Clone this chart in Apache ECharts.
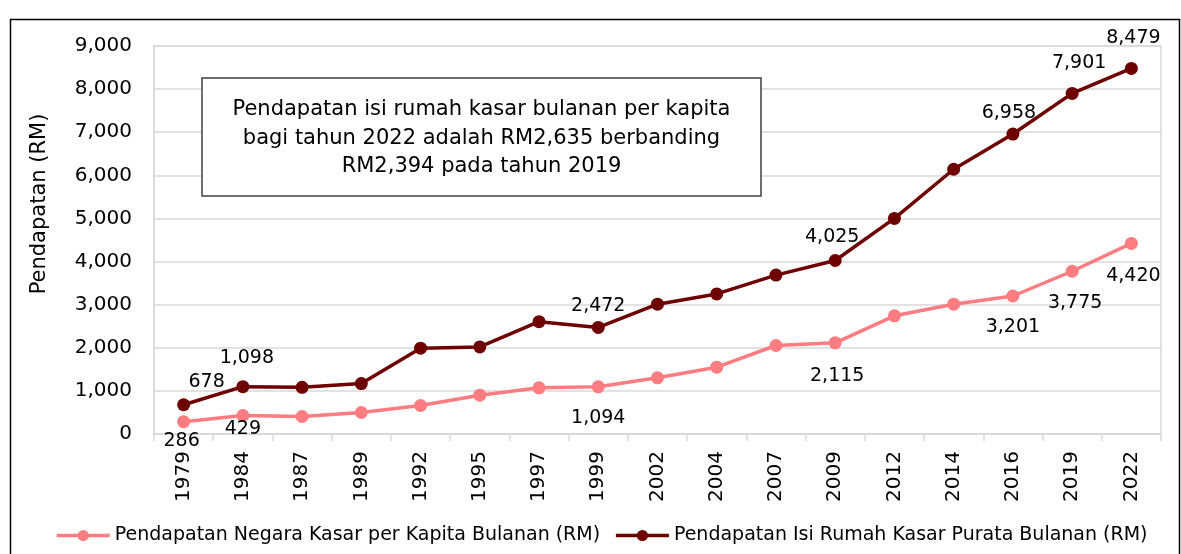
<!DOCTYPE html>
<html>
<head>
<meta charset="utf-8">
<script src="https://cdn.jsdelivr.net/npm/echarts@6/dist/echarts.min.js"></script>
<style>
html,body{margin:0;padding:0;background:#fff;}
#chart{width:1181px;height:554px;}
</style>
</head>
<body>
<div id="chart"></div>
<script>
const years = ['1979','1984','1987','1989','1992','1995','1997','1999','2002','2004','2007','2009','2012','2014','2016','2019','2022'];
const gniPerCapita = [286, 429, 406, 499, 661, 900, 1071, 1094, 1303, 1550, 2053, 2115, 2741, 3011, 3201, 3775, 4420];
const householdIncome = [678, 1098, 1083, 1169, 1990, 2020, 2606, 2472, 3011, 3249, 3686, 4025, 5000, 6141, 6958, 7901, 8479];
const seriesNames = ['Pendapatan Negara Kasar per Kapita Bulanan (RM)', 'Pendapatan Isi Rumah Kasar Purata Bulanan (RM)'];
const yTicks = [0, 1000, 2000, 3000, 4000, 5000, 6000, 7000, 8000, 9000];
const yAxisTitle = 'Pendapatan (RM)';
const noteLines = ['Pendapatan isi rumah kasar bulanan per kapita', 'bagi tahun 2022 adalah RM2,635 berbanding', 'RM2,394 pada tahun 2019'];
const labelledYears = ['1979','1984','1999','2009','2016','2019','2022'];

// label offsets (layout only), relative to point centre
const gniLabelOffsets = {'1979':[-2,19],'1984':[0,14],'1999':[0,31],'2009':[2,33],'2016':[0,31],'2019':[3,32],'2022':[2,33]};
const hhLabelOffsets = {'1979':[23,-23],'1984':[4,-29],'1999':[0,-21],'2009':[-3,-23],'2016':[-4,-21],'2019':[7,-30],'2022':[2,-30]};

const FONT = 'DejaVu Sans';
const fmt = v => Number(v).toLocaleString('en-US');

function buildData(values, offsets) {
  return values.map((v, i) => {
    const y = years[i];
    if (labelledYears.indexOf(y) >= 0) {
      return {value: v, label: {show: true, position: 'inside', offset: offsets[y], formatter: p => fmt(p.value), color: '#000', fontFamily: FONT, fontSize: 19}};
    }
    return {value: v, label: {show: false}};
  });
}

const chart = echarts.init(document.getElementById('chart'), null, {renderer: 'canvas'});
chart.setOption({
  animation: false,
  backgroundColor: '#fff',
  grid: {left: 154, right: 20, top: 46, bottom: 120, show: true, borderColor: '#d9d9d9', borderWidth: 1.5, containLabel: false},
  legend: {
    left: 50, top: 521, itemWidth: 53, itemHeight: 14, itemGap: 14,
    lineStyle: {width: 3.5},
    textStyle: {fontFamily: FONT, fontSize: 19, color: '#000'},
    data: seriesNames
  },
  xAxis: {
    type: 'category', data: years, boundaryGap: true,
    axisLine: {show: true, lineStyle: {color: '#d9d9d9', width: 1.5}},
    axisTick: {show: true, interval: 0, length: 7, lineStyle: {color: '#d9d9d9', width: 1.5}},
    axisLabel: {interval: 0, rotate: 90, margin: 17, fontFamily: FONT, fontSize: 20, color: '#000'}
  },
  yAxis: {
    type: 'value', min: yTicks[0], max: yTicks[yTicks.length - 1], interval: yTicks[1] - yTicks[0],
    axisLine: {show: true, lineStyle: {color: '#d9d9d9', width: 1.5}},
    axisTick: {show: false},
    splitLine: {show: true, lineStyle: {color: '#d9d9d9', width: 1.5}},
    axisLabel: {margin: 22, fontFamily: FONT, fontSize: 20, color: '#000', formatter: v => fmt(v)}
  },
  series: [
    {
      name: seriesNames[0], type: 'line', data: buildData(gniPerCapita, gniLabelOffsets),
      symbol: 'circle', symbolSize: 13,
      lineStyle: {color: '#ff7c80', width: 3.5},
      itemStyle: {color: '#ff7c80'}
    },
    {
      name: seriesNames[1], type: 'line', data: buildData(householdIncome, hhLabelOffsets),
      symbol: 'circle', symbolSize: 13,
      lineStyle: {color: '#6e0000', width: 3.5},
      itemStyle: {color: '#6e0000'}
    }
  ],
  graphic: [
    {type: 'rect', left: 8, top: 17, shape: {x: 0, y: 0, width: 1169, height: 560}, style: {fill: 'none', stroke: '#000', lineWidth: 1.5}, silent: true, z: 100},
    {type: 'text', x: 40, y: 204, rotation: Math.PI / 2, style: {text: yAxisTitle, fontFamily: FONT, fontSize: 21, fill: '#000', align: 'center', verticalAlign: 'middle'}},
    {type: 'rect', x: 202, y: 78, shape: {x: 0, y: 0, width: 559, height: 118}, style: {fill: '#fff', stroke: '#404040', lineWidth: 1.5}, z: 50},
    {type: 'text', x: 481.5, y: 138.5, z: 51, style: {text: noteLines.join('\n'), fontFamily: FONT, fontSize: 21, lineHeight: 28.5, fill: '#000', align: 'center', verticalAlign: 'middle'}}
  ]
});
</script>
</body>
</html>
